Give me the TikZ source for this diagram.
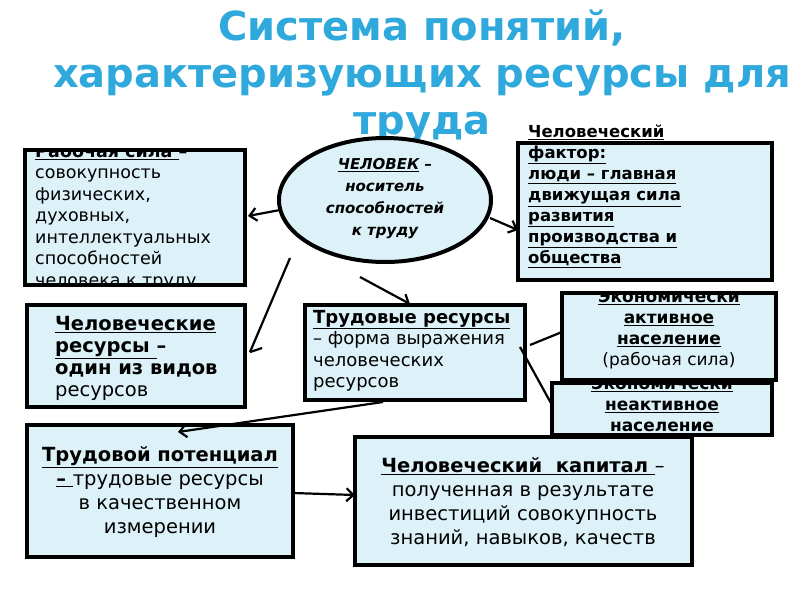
\documentclass[tikz,border=0pt]{standalone}
\usepackage{fontspec}
\setmainfont{DejaVu Sans}
\usetikzlibrary{arrows.meta}
\definecolor{boxfill}{HTML}{DDF2F8}
\definecolor{titleblue}{HTML}{2FA8DC}
\newcommand{\ul}[1]{\underline{#1}}
\begin{document}
\begin{tikzpicture}[x=1pt,y=-1pt,
  bx/.style={draw=black,line width=4pt,fill=boxfill},
  txt/.style={align=left,anchor=north west,font=\fontsize{17.5}{21.5}\selectfont,inner sep=0pt},
  ctxt/.style={align=center,anchor=north,font=\fontsize{17}{21}\selectfont,inner sep=0pt},
  conn/.style={line width=2.2pt},
  arr/.style={line width=2.2pt,-{Straight Barb[length=7pt,width=13pt]}}]
\useasboundingbox (0,0) rectangle (800,600);
\fill[white] (0,0) rectangle (800,600);
% title
\node[font=\bfseries\fontsize{40}{47}\selectfont,text=titleblue,align=center,anchor=north] (title) at (422,6)
 {Система понятий,\\ характеризующих ресурсы для\\ труда};
% boxes
\begin{scope}
\draw[bx] (25,150) rectangle (245,285);
\clip (27,152) rectangle (243,283);
\node[txt] (rs) at (35,143) {\textbf{\ul{Рабочая сила }–}\\совокупность\\физических,\\духовных,\\интеллектуальных\\способностей\\человека к труду};
\end{scope}
\draw[bx] (385,200) ellipse [x radius=106,y radius=62];
\node[ctxt,font=\bfseries\itshape\fontsize{15}{22}\selectfont] (chel) at (385,158) {\ul{ЧЕЛОВЕК} –\\носитель\\способностей\\к труду};
\draw[bx] (518,143) rectangle (772,280);
\node[txt,font=\bfseries\fontsize{16.5}{21}\selectfont] (cf) at (528,125) {\ul{Человеческий}\\\ul{фактор:}\\\ul{люди – главная}\\\ul{движущая сила}\\\ul{развития}\\\ul{производства и}\\\ul{общества}};
\draw[bx] (27,305) rectangle (245,407);
\node[txt,font=\fontsize{19.5}{22}\selectfont] (cr) at (55,316) {\textbf{\ul{Человеческие}}\\\textbf{\ul{ресурсы }–}\\\textbf{один из видов}\\ресурсов};
\draw[bx] (305,305) rectangle (525,400);
\node[txt,font=\fontsize{18}{21.5}\selectfont] (tr) at (313,310) {\textbf{\ul{Трудовые ресурсы}}\\– форма выражения\\человеческих\\ресурсов};
\begin{scope}
\draw[bx] (562,293) rectangle (776,380);
\clip (564,295) rectangle (774,378);
\node[ctxt] (ea) at (669,290) {\textbf{\ul{Экономически}}\\\textbf{\ul{активное}}\\\textbf{\ul{население}}\\(рабочая сила)};
\end{scope}
\begin{scope}
\draw[bx] (552,383) rectangle (772,435);
\clip (554,385) rectangle (770,433);
\node[ctxt] (en) at (662,377) {\textbf{\ul{Экономически}}\\\textbf{\ul{неактивное}}\\\textbf{\ul{население}}};
\end{scope}
\draw[bx] (27,425) rectangle (293,557);
\node[ctxt,font=\fontsize{19.5}{24}\selectfont] (tp) at (160,446) {\textbf{\ul{Трудовой потенциал}}\\\textbf{\ul{– }}трудовые ресурсы\\в качественном\\измерении};
\draw[bx] (355,437) rectangle (692,565);
\node[ctxt,font=\fontsize{19.5}{24}\selectfont] (ck) at (523,457) {\textbf{\ul{Человеческий\ \ капитал }}–\\полученная в результате\\инвестиций совокупность\\знаний, навыков, качеств};
% connectors
\coordinate (a1) at (280,210); \coordinate (b1) at (248,216);
\draw[arr] (a1) -- (b1);
\coordinate (a2) at (490,218); \coordinate (b2) at (518,230);
\draw[arr] (a2) -- (b2);
\coordinate (a3) at (360,277); \coordinate (b3) at (410,304);
\draw[arr] (a3) -- (b3);
\coordinate (a4) at (290,258); \coordinate (b4) at (250,352);
\draw[conn] (a4) -- (b4);
\coordinate (c4) at (262,348); \draw[conn] (b4) -- (c4);
\coordinate (a5) at (383,402); \coordinate (b5) at (178,432);
\draw[arr] (a5) -- (b5);
\coordinate (a6) at (530,345); \coordinate (b6) at (562,332);
\draw[conn] (a6) -- (b6);
\coordinate (a7) at (520,347); \coordinate (b7) at (552,405);
\draw[conn] (a7) -- (b7);
\coordinate (a8) at (293,493); \coordinate (b8) at (355,495);
\draw[arr] (a8) -- (b8);
\end{tikzpicture}
\end{document}
